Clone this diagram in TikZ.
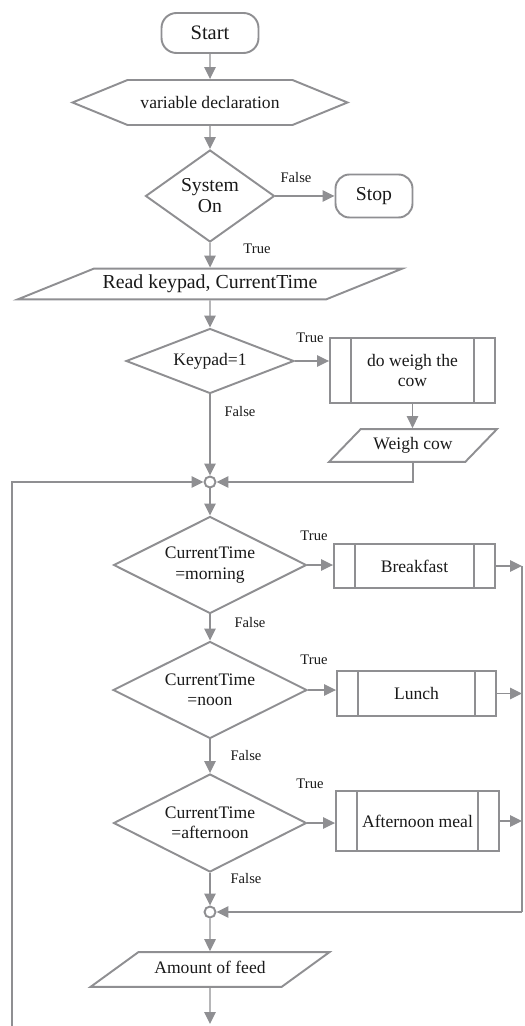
\documentclass[tikz,border=0pt]{standalone}
\usepackage{fontspec}
\setmainfont{Liberation Serif}
\usetikzlibrary{shapes.geometric,shapes.symbols,arrows.meta}
\definecolor{flowgray}{RGB}{143,143,146}
\definecolor{flowtext}{RGB}{25,25,25}
\tikzset{
  base/.style={draw=flowgray, line width=1.1pt, text=flowtext, font=\fontsize{10}{11.5}\selectfont, align=center, inner sep=0pt},
  terminal/.style={base, shape=rectangle, rounded corners=0.28cm},
  prep/.style={base, shape=signal, signal to=east and west, signal pointer angle=44.5},
  decision/.style={base, shape=diamond, aspect=2},
  io/.style={base, shape=trapezium, trapezium stretches body, text height=7pt, text depth=2pt},
  subbox/.style={base, shape=rectangle, path picture={
    \draw[draw=flowgray, line width=1.1pt] ([xshift=0.42cm]path picture bounding box.north west) -- ([xshift=0.42cm]path picture bounding box.south west)
      ([xshift=-0.42cm]path picture bounding box.north east) -- ([xshift=-0.42cm]path picture bounding box.south east);}},
  junction/.style={draw=flowgray, line width=1.1pt, shape=circle, minimum size=0.22cm, inner sep=0pt},
  flow/.style={draw=flowgray, line width=0.75pt, -{Triangle[length=6.8pt,width=6.5pt]}},
  wire/.style={draw=flowgray, line width=0.75pt},
  tag/.style={text=flowtext, font=\fontsize{8.3}{10}\selectfont, inner sep=0pt}
}
\begin{document}
\begin{tikzpicture}[x=0.02cm, y=-0.02cm]
\useasboundingbox (0,0) rectangle (524,1026);

\node[terminal, font=\fontsize{11.7}{14}\selectfont, minimum width=1.94cm, minimum height=0.8cm, rounded corners=0.3cm] (nstart) at (210,33) {Start};
\node[prep, minimum width=5.5cm, minimum height=0.9cm] (ndecl) at (210,102.5) {variable declaration};
\node[decision, font=\fontsize{11.2}{12}\selectfont, aspect=1.4, minimum width=2.58cm, minimum height=1.84cm] (nsys) at (210,196) {System\\On};
\node[terminal, font=\fontsize{11.2}{13}\selectfont, minimum width=1.54cm, minimum height=0.86cm] (nstop) at (374,196) {Stop};
\node[io, font=\fontsize{11.3}{13}\selectfont, trapezium left angle=22, trapezium right angle=158, minimum width=7.7cm, inner ysep=4.3pt] (nread) at (210,284) {Read keypad, CurrentTime};
\node[decision, aspect=2.6, minimum width=3.36cm, minimum height=1.3cm] (nkey) at (210,361) {Keypad=1};
\node[subbox, minimum width=3.3cm, minimum height=1.3cm] (nweigh) at (412.5,370.5) {do weigh the\\cow};
\node[io, trapezium left angle=46, trapezium right angle=134, minimum width=3.36cm, inner ysep=4.85pt] (ncow) at (413,445.5) {Weigh cow};
\node[junction] (nj1) at (210,482) {};
\node[decision, minimum width=3.86cm, minimum height=1.94cm] (nmorn) at (210,565) {CurrentTime\\=morning};
\node[subbox, minimum width=3.22cm, minimum height=0.88cm] (nbreak) at (414.5,566) {Breakfast};
\node[decision, minimum width=3.88cm, minimum height=1.94cm] (nnoon) at (210,690) {CurrentTime\\=noon};
\node[subbox, minimum width=3.18cm, minimum height=0.9cm] (nlunch) at (416.5,693.5) {Lunch};
\node[decision, minimum width=3.86cm, minimum height=1.96cm] (naft) at (210,823) {CurrentTime\\=afternoon};
\node[subbox, minimum width=3.26cm, minimum height=1.2cm] (nmeal) at (417.5,821) {Afternoon meal};
\node[junction] (nj2) at (210,912) {};
\node[io, trapezium left angle=36, trapezium right angle=144, minimum width=4.78cm, inner ysep=5.4pt] (nfeed) at (210,969.5) {Amount of feed};
\coordinate (cloop) at (12,1026);
\coordinate (cbus) at (522,912);
\coordinate (cend) at (210,1024);

\node[tag] (tsysf) at (296,178) {False};
\node[tag] (tsyst) at (257,249) {True};
\node[tag] (tkeyt) at (310,338) {True};
\node[tag] (tkeyf) at (240,412) {False};
\node[tag] (tmornt) at (314,536) {True};
\node[tag] (tmornf) at (250,623) {False};
\node[tag] (tnoont) at (314,660) {True};
\node[tag] (tnoonf) at (246,756) {False};
\node[tag] (taftt) at (310,784) {True};
\node[tag] (taftf) at (246,879) {False};

\draw[flow] (nstart) -- (ndecl);
\draw[flow] (ndecl) -- (nsys);
\draw[flow] (nsys) -- (nstop);
\draw[flow] (nsys) -- (nread);
\draw[flow] (nread) -- (nkey);
\draw[flow] (nkey.east) -- (nkey.east -| nweigh.west);
\draw[flow] (nweigh.south) -- (nweigh.south |- ncow.north);
\draw[flow] (ncow.south) |- (nj1.east);
\draw[flow] (cloop) |- (nj1.west);
\draw[flow] (nkey) -- (nj1);
\draw[flow] (nj1) -- (nmorn);
\draw[flow] (nmorn.east) -- (nmorn.east -| nbreak.west);
\draw[flow] (nmorn) -- (nnoon);
\draw[flow] (nnoon.east) -- (nnoon.east -| nlunch.west);
\draw[flow] (nnoon) -- (naft);
\draw[flow] (naft.east) -- (naft.east -| nmeal.west);
\draw[flow] (nbreak.east) -- (nbreak.east -| cbus);
\draw[flow] (nlunch.east) -- (nlunch.east -| cbus);
\draw[flow] (nmeal.east) -- (nmeal.east -| cbus);
\draw[wire] (nbreak.east -| cbus) -- (cbus);
\draw[flow] (cbus) -- (nj2.east);
\draw[flow] (naft) -- (nj2);
\draw[flow] (nj2) -- (nfeed);
\draw[flow] (nfeed) -- (cend);
\end{tikzpicture}
\end{document}
